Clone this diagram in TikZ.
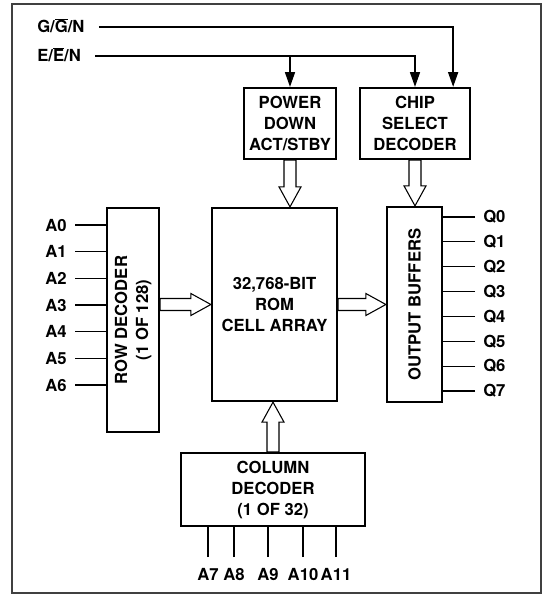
\documentclass[tikz,border=0pt]{standalone}
\usepackage{fontspec}
\setmainfont{TeX Gyre Heros}
\usetikzlibrary{arrows.meta,calc}

% wide hollow bus arrow from #1 to #2
\newcommand{\busarrow}[2]{%
  \path ($(#2)!15pt!(#1)$) coordinate (bhead);
  \draw[busline] ($(#1)!4.5pt!90:(#2)$) -- ($(bhead)!4.5pt!90:(#2)$)
    -- ($(bhead)!8.25pt!90:(#2)$) -- (#2) -- ($(bhead)!8.25pt!-90:(#2)$)
    -- ($(bhead)!4.5pt!-90:(#2)$) -- ($(#1)!4.5pt!-90:(#2)$) -- cycle;}

\begin{document}
\begin{tikzpicture}[x=0.75pt, y=-0.75pt,
    every node/.style={font=\bfseries\fontsize{12.5}{15.75}\selectfont},
    block/.style={draw, line width=1.7pt, align=center, inner xsep=2pt},
    wire/.style={line width=0.8pt},
    sig/.style={line width=1pt, -{Triangle[length=11pt,width=7.5pt]}},
    busline/.style={fill=white, line width=0.8pt, line join=miter},
    pinlbl/.style={inner sep=6pt},
    sigin/.style={inner xsep=10.5pt, inner ysep=1pt}]
    \useasboundingbox (0,0) rectangle (547,595);
    % outer frame
    \draw[black!75, line width=0.8pt] (12,4) rectangle (541,593);

    % control inputs
    \node[sigin, anchor=base west] (gn) at (23,33) {G/\smash{$\overline{\hbox{G}}$}/N};
    \node[sigin, anchor=base west] (en) at (23,62) {E/\smash{$\overline{\hbox{E}}$}/N};

    % blocks
    \node[block, minimum width=69pt, minimum height=53.25pt] (pd) at (290,123.5) {POWER\\DOWN\\ACT/STBY};
    \node[block, minimum width=82.5pt, minimum height=53.25pt] (cs) at (415,123.5) {CHIP\\SELECT\\DECODER};
    \node[block, minimum width=93.75pt, minimum height=144.75pt] (rom) at (274.5,304.5) {32,768-BIT\\ROM\\CELL ARRAY};
    \node[block, rotate=90, minimum width=168pt, minimum height=39pt] (row) at (133,320) {ROW DECODER\\(1 OF 128)};
    \node[block, rotate=90, minimum width=146.25pt, minimum height=41.25pt] (ob) at (414.5,304.5) {OUTPUT BUFFERS};
    \node[block, minimum width=138pt, minimum height=54.75pt] (col) at (273,489.5) {COLUMN\\DECODER\\(1 OF 32)};

    % control lines
    \draw[sig] (gn.east) -| ([xshift=-13.5pt]cs.north east);
    \draw[sig] (en.east) -| (cs.north);
    \draw[sig] (en.east -| pd.north) -- (pd.north);

    % bus arrows
    \coordinate (pdtip) at (pd.south |- rom.north);
    \coordinate (cstip) at (cs.south |- ob.east);
    \coordinate (rowtail) at (row.south |- rom.west);
    \coordinate (obtip) at (rom.east -| ob.north);
    \coordinate (coltip) at (col.north |- rom.south);
    \busarrow{pd.south}{pdtip}
    \busarrow{cs.south}{cstip}
    \busarrow{rowtail}{rom.west}
    \busarrow{rom.east}{obtip}
    \busarrow{col.north}{coltip}

    % address inputs A0-A6
    \foreach \i in {0,...,6} {
        \node[pinlbl, anchor=east] (a\i) at (75, 225+26.67*\i) {A\i};
        \draw[wire] (a\i) -- (a\i -| row.north);
    }
    % address inputs A7-A11
    \foreach \i/\x in {7/208, 8/234, 9/268, 10/303, 11/336} {
        \node[pinlbl, inner ysep=8pt, anchor=north] (a\i) at (\x,557) {A\i};
        \draw[wire] (a\i) -- (a\i |- col.south);
    }
    % data outputs
    \foreach \i in {0,...,7} {
        \node[pinlbl, anchor=west] (q\i) at (475, 217+24.86*\i) {Q\i};
        \draw[wire] (q\i) -- (q\i -| ob.south);
    }
\end{tikzpicture}
\end{document}
